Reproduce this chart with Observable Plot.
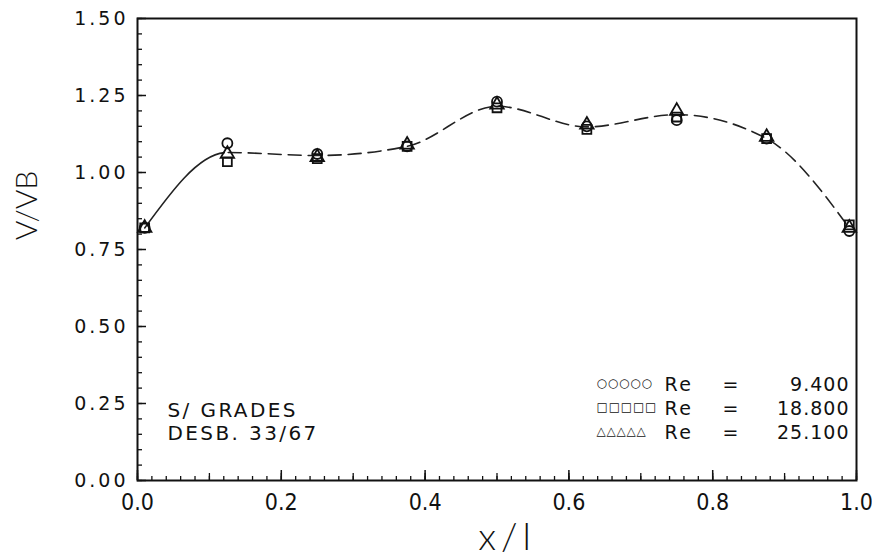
<!DOCTYPE html>
<html><head><meta charset="utf-8">
<script src="https://cdn.jsdelivr.net/npm/d3@7"></script>
<script src="https://cdn.jsdelivr.net/npm/@observablehq/plot@0.6"></script>
<style>
body{margin:0;background:#fff}
#chart svg{background:#fff;font-family:"DejaVu Sans",sans-serif}
#chart g[aria-label="y-axis tick label"] text{letter-spacing:3px}
</style>
</head><body><div id="chart"></div>
<script>
// Measurement stations x/l
const xPos = [0.01, 0.125, 0.25, 0.375, 0.5, 0.625, 0.75, 0.875, 0.99];
// V/VB for each Reynolds number
const re9400  = [0.82, 1.095, 1.06, 1.085, 1.23, 1.15, 1.17, 1.11, 0.81];
const re18800 = [0.82, 1.035, 1.045, 1.085, 1.21, 1.14, 1.18, 1.11, 0.83];
const re25100 = [0.82, 1.06, 1.05, 1.09, 1.22, 1.155, 1.20, 1.115, 0.82];
// fitted curve through the stations
const fitCurve = [0.82, 1.065, 1.055, 1.085, 1.215, 1.148, 1.188, 1.11, 0.82];
const seriesNames = ["Re = 9.400", "Re = 18.800", "Re = 25.100"];
const seriesSymbols = ["circle", "square", "triangle"];
const legendGlyphs = ["○○○○○", "□□□□□", "△△△△△"];
const legendValues = ["9.400", "18.800", "25.100"];
const notes = ["S/ GRADES", "DESB. 33/67"];
const yTicks = [0, 0.25, 0.5, 0.75, 1.0, 1.25, 1.5];
const xTicks = [0, 0.2, 0.4, 0.6, 0.8, 1.0];
const xLabel = "x/l";
const yLabel = "V/VB";

const W = 872, H = 559;
const mL = 137, mR = 16, mT = 18, mB = 79;
const fw = W - mL - mR, fh = H - mT - mB;

const pts = [];
[re9400, re18800, re25100].forEach((arr, s) => arr.forEach((v, i) =>
  pts.push({x: xPos[i], y: v, series: seriesNames[s]})));
const fit = xPos.map((x, i) => ({x, y: fitCurve[i]}));

const xMinor = d3.range(0, 51).map(i => i / 50);
const xMid = d3.range(0, 11).map(i => i / 10);
const yMinor = d3.range(0, 31).map(i => i / 20);

let dash = "112,4";
for (let i = 0; i < 60; i++) dash += ",13,7";

const txt = {fill: "#111", stroke: "none"};
const legendFont = {fontFamily: "DejaVu Sans", fontSize: 19, ...txt};
const condensed = "'Liberation Sans Narrow','DejaVu Sans Condensed',Roboto,sans-serif";

const plot = Plot.plot({
  width: W, height: H,
  marginLeft: mL, marginRight: mR, marginTop: mT, marginBottom: mB,
  x: {domain: [0, 1]},
  y: {domain: [0, 1.5]},
  symbol: {domain: seriesNames, range: seriesSymbols},
  marks: [
    // inner ticks
    Plot.ruleX(xMinor, {x: d => d, insetTop: fh - 4, stroke: "#111", strokeWidth: 1.3}),
    Plot.ruleX(xMid, {x: d => d, insetTop: fh - 7, stroke: "#111", strokeWidth: 1.3}),
    Plot.ruleX(xTicks, {x: d => d, insetTop: fh - 10, stroke: "#111", strokeWidth: 1.5}),
    Plot.ruleY(yMinor, {y: d => d, insetRight: fw - 5, stroke: "#111", strokeWidth: 1.3}),
    Plot.ruleY(yTicks, {y: d => d, insetRight: fw - 9, stroke: "#111", strokeWidth: 1.5}),
    Plot.frame({stroke: "#111", strokeWidth: 2}),
    // tick labels
    Plot.axisY(yTicks, {tickSize: 0, tickPadding: 9, tickFormat: d3.format(".2f"), label: null,
      fontSize: 19, fontFamily: "DejaVu Sans", fill: "#111"}),
    Plot.axisX(xTicks, {tickSize: 0, tickPadding: 13, tickFormat: d3.format(".1f"), label: null,
      fontSize: 23, fontFamily: condensed, fill: "#111"}),
    // axis titles
    Plot.text([yLabel], {text: d => d, frameAnchor: "left", textAnchor: "middle", lineAnchor: "middle",
      dx: -110, dy: -44, rotate: -90, fontSize: 30, fontFamily: "Lato", fontWeight: 300, ...txt}),
    Plot.text([xLabel], {text: d => d, frameAnchor: "bottom", textAnchor: "middle", lineAnchor: "middle",
      dx: 10, dy: 57, fontSize: 38, fontFamily: "Lato", fontWeight: 300, ...txt}),
    // fitted curve
    Plot.line(fit, {x: "x", y: "y", curve: "monotone-x", stroke: "#222", strokeWidth: 1.6,
      strokeDasharray: dash}),
    // data
    Plot.dot(pts, {x: "x", y: "y", symbol: "series", r: 5, stroke: "#111", strokeWidth: 1.8, fill: "none"}),
    // notes
    Plot.text([notes.join("\n")], {text: d => d, frameAnchor: "bottom-left", textAnchor: "start",
      lineAnchor: "middle", lineHeight: 1.15, dx: 30, dy: -59, fontFamily: "DejaVu Sans", fontSize: 20, ...txt}),
    // legend
    ...legendGlyphs.map((g, i) => Plot.text([g], {text: d => d, frameAnchor: "bottom-right", textAnchor: "start",
      lineAnchor: "middle", dx: -260, dy: -97 + i * 24,
      fontFamily: "DejaVu Sans", fontSize: 12, fontWeight: "bold", ...txt})),
    Plot.text([seriesNames.map(() => "Re").join("\n")], {text: d => d, frameAnchor: "bottom-right", textAnchor: "start",
      lineAnchor: "middle", lineHeight: 1.26, dx: -192, dy: -73, ...legendFont}),
    Plot.text([seriesNames.map(() => "=").join("\n")], {text: d => d, frameAnchor: "bottom-right", textAnchor: "start",
      lineAnchor: "middle", lineHeight: 1.26, dx: -134, dy: -73, ...legendFont}),
    Plot.text([legendValues.join("\n")], {text: d => d, frameAnchor: "bottom-right", textAnchor: "end",
      lineAnchor: "middle", lineHeight: 1.26, dx: -7, dy: -73, ...legendFont})
  ]
});

// letter spacing (plotter-like wide lettering)
d3.select(plot).selectAll("text").each(function() {
  const t = this.textContent;
  let ls = null;
  if (t.includes("GRADES")) ls = "2.4px";
  else if (t.startsWith("ReRe")) ls = "2.5px";
  else if (t.includes("18.800")) ls = "1px";
  else if (t === xLabel) ls = "5px";
  else if (legendGlyphs.includes(t)) ls = "0.8px";
  if (ls) {
    this.style.letterSpacing = ls;
    d3.select(this).selectAll("tspan").style("letter-spacing", ls);
  }
});
document.getElementById("chart").appendChild(plot);
</script>
</body></html>
